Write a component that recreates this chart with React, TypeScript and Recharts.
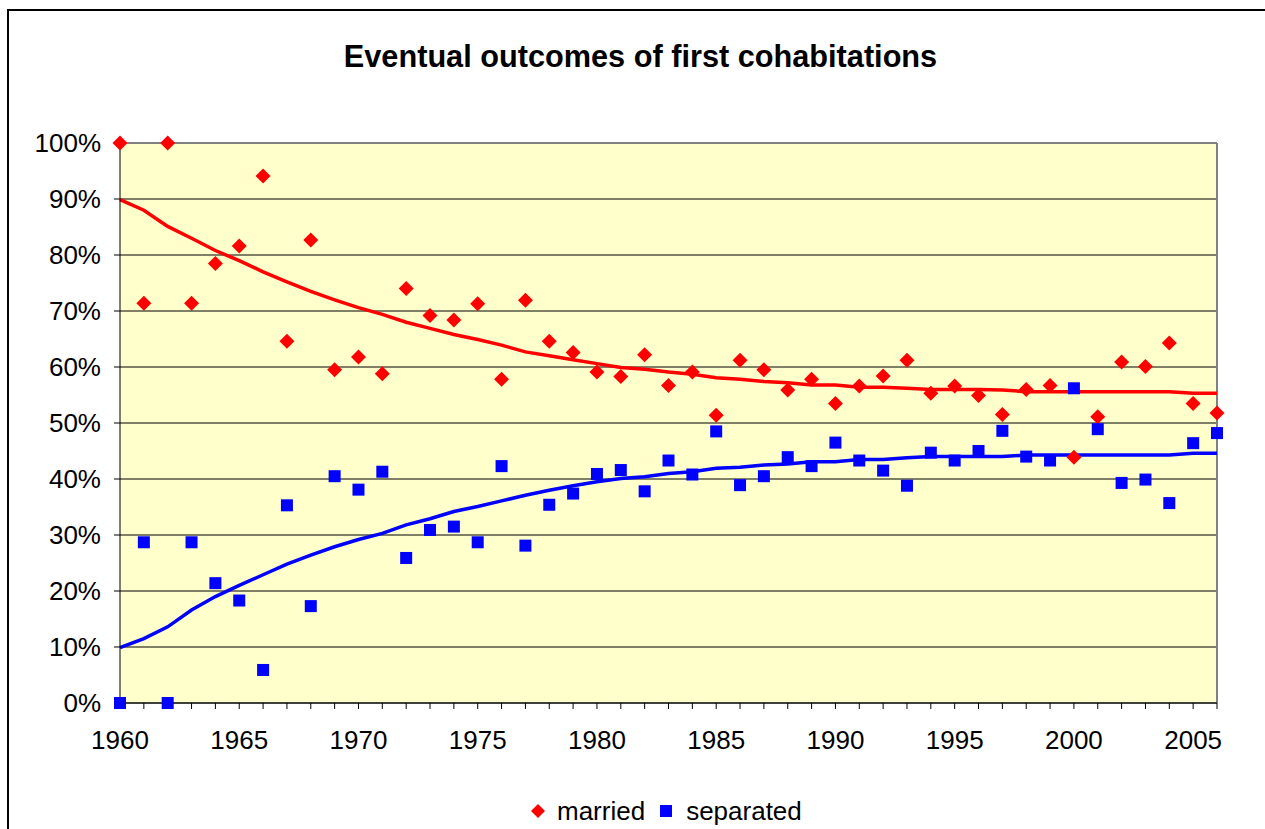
import {
  CartesianGrid,
  ComposedChart,
  Line,
  ReferenceLine,
  Scatter,
  XAxis,
  YAxis,
} from "recharts";

const years = [
  1960, 1961, 1962, 1963, 1964, 1965, 1966, 1967, 1968, 1969, 1970, 1971,
  1972, 1973, 1974, 1975, 1976, 1977, 1978, 1979, 1980, 1981, 1982, 1983,
  1984, 1985, 1986, 1987, 1988, 1989, 1990, 1991, 1992, 1993, 1994, 1995,
  1996, 1997, 1998, 1999, 2000, 2001, 2002, 2003, 2004, 2005, 2006,
];

const married = [
  100, 71.4, 100, 71.4, 78.5, 81.6, 94.1, 64.6, 82.7, 59.5, 61.8, 58.8, 74.0,
  69.2, 68.4, 71.3, 57.8, 71.9, 64.6, 62.6, 59.1, 58.3, 62.2, 56.7, 59.1,
  51.4, 61.2, 59.5, 55.9, 57.8, 53.5, 56.6, 58.4, 61.2, 55.3, 56.6, 54.9,
  51.5, 56.0, 56.7, 43.9, 51.1, 60.9, 60.1, 64.3, 53.5, 51.8,
];

const separated = [
  0, 28.7, 0, 28.7, 21.4, 18.3, 5.9, 35.3, 17.3, 40.5, 38.1, 41.3, 25.9,
  30.9, 31.5, 28.7, 42.3, 28.1, 35.4, 37.4, 40.9, 41.6, 37.8, 43.3, 40.8,
  48.5, 38.9, 40.5, 43.9, 42.3, 46.5, 43.3, 41.5, 38.8, 44.7, 43.3, 45.0,
  48.6, 44.0, 43.3, 56.2, 48.9, 39.3, 39.9, 35.7, 46.4, 48.2,
];

const marriedTrend = [
  89.9, 88.0, 85.1, 83.0, 80.8, 79.0, 77.0, 75.2, 73.5, 72.0, 70.6, 69.4,
  68.0, 66.9, 65.8, 64.9, 63.9, 62.7, 62.0, 61.3, 60.6, 59.9, 59.6, 59.1,
  58.7, 58.1, 57.8, 57.4, 57.2, 56.8, 56.8, 56.4, 56.4, 56.2, 56.0, 56.0,
  56.0, 55.9, 55.6, 55.6, 55.6, 55.6, 55.6, 55.6, 55.6, 55.3, 55.3,
];

const separatedTrend = [
  9.9, 11.5, 13.6, 16.6, 19.0, 21.0, 22.9, 24.8, 26.4, 27.9, 29.2, 30.3,
  31.8, 32.9, 34.2, 35.1, 36.1, 37.1, 38.0, 38.8, 39.5, 40.1, 40.4, 41.0,
  41.3, 41.9, 42.1, 42.5, 42.7, 43.1, 43.1, 43.5, 43.5, 43.8, 44.0, 44.0,
  44.0, 44.0, 44.3, 44.3, 44.3, 44.3, 44.3, 44.3, 44.3, 44.6, 44.6,
];

const yTicks = [0, 10, 20, 30, 40, 50, 60, 70, 80, 90, 100];

const data = years.map((year, i) => ({
  year,
  married: married[i],
  separated: separated[i],
  marriedTrend: marriedTrend[i],
  separatedTrend: separatedTrend[i],
}));

const FONT = "'Liberation Sans', Arial, sans-serif";

const Diamond = ({ cx, cy }: any) => (
  <polygon
    points={`${cx},${cy - 7.5} ${cx + 7.5},${cy} ${cx},${cy + 7.5} ${cx - 7.5},${cy}`}
    fill="#FF0000"
  />
);

const Square = ({ cx, cy }: any) => (
  <rect x={cx - 6} y={cy - 6} width={12} height={12} fill="#0000FF" />
);

export default function App() {
  return (
    <div
      style={{
        position: "fixed",
        left: 0,
        top: 0,
        width: 1265,
        height: 829,
        background: "#fff",
        overflow: "hidden",
        fontFamily: FONT,
      }}
    >
      {/* chart frame, runs off the right and bottom edge */}
      <div
        style={{
          position: "absolute",
          left: 7,
          top: 9,
          width: 1400,
          height: 1000,
          border: "2px solid #000",
        }}
      />
      <div
        style={{
          position: "absolute",
          left: 8,
          top: 40,
          width: 1265,
          textAlign: "center",
          fontSize: 30.7,
          lineHeight: "34px",
          fontWeight: "bold",
          color: "#000",
        }}
      >
        Eventual outcomes of first cohabitations
      </div>

      <div style={{ position: "absolute", left: 0, top: 0 }}>
        <ComposedChart
          width={1265}
          height={829}
          data={data}
          margin={{ top: 143, right: 48, bottom: 66, left: 20 }}
        >
          <CartesianGrid
            vertical={false}
            stroke="#000"
            fill="#FFFFCC"
            horizontalValues={yTicks}
          />
          <XAxis
            dataKey="year"
            type="number"
            domain={[1960, 2006]}
            ticks={years}
            interval={0}
            tickFormatter={(v) => (v % 5 === 0 ? String(v) : "")}
            tick={{ fill: "#000", fontSize: 26, fontFamily: FONT }}
            tickSize={6}
            tickMargin={22}
            axisLine={{ stroke: "#000" }}
            tickLine={{ stroke: "#000" }}
            height={60}
          />
          <YAxis
            type="number"
            domain={[0, 100]}
            ticks={yTicks}
            interval={0}
            tickFormatter={(v) => `${v}%`}
            tick={{ fill: "#000", fontSize: 26, fontFamily: FONT }}
            tickSize={6}
            tickMargin={13}
            axisLine={{ stroke: "#000" }}
            tickLine={{ stroke: "#000" }}
            width={100}
          />
          <ReferenceLine y={100} stroke="#808080" strokeWidth={2} />
          <ReferenceLine x={2006} stroke="#808080" strokeWidth={2} />
          <Line
            type="linear"
            dataKey="marriedTrend"
            stroke="#FF0000"
            strokeWidth={3.5}
            dot={false}
            isAnimationActive={false}
          />
          <Line
            type="linear"
            dataKey="separatedTrend"
            stroke="#0000FF"
            strokeWidth={3.5}
            dot={false}
            isAnimationActive={false}
          />
          <Scatter
            dataKey="married"
            shape={(p: any) => <Diamond {...p} />}
            isAnimationActive={false}
          />
          <Scatter
            dataKey="separated"
            shape={(p: any) => <Square {...p} />}
            isAnimationActive={false}
          />
        </ComposedChart>
      </div>

      {/* legend */}
      <div
        style={{
          position: "absolute",
          left: 531,
          top: 795,
          display: "flex",
          alignItems: "center",
          fontSize: 26,
          lineHeight: "32px",
          color: "#000",
        }}
      >
        <svg width={14} height={14} style={{ marginRight: 12 }}>
          <polygon points="7,0 14,7 7,14 0,7" fill="#FF0000" />
        </svg>
        <span style={{ marginRight: 15 }}>married</span>
        <svg width={12} height={12} style={{ marginRight: 14 }}>
          <rect width={12} height={12} fill="#0000FF" />
        </svg>
        <span>separated</span>
      </div>
    </div>
  );
}
